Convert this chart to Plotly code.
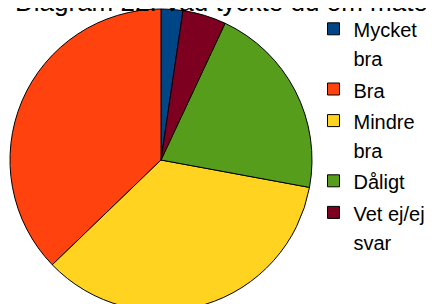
import plotly.graph_objects as go

title_text = "Diagram 22. Vad tyckte du om maten?"
categories = ["Mycket<br>bra", "Bra", "Mindre<br>bra", "Dåligt", "Vet ej/ej<br>svar"]
values = [1, 16, 15, 9, 2]
colors = ["#004586", "#ff420e", "#ffd320", "#579d1c", "#7e0021"]

W, H = 434, 304

def small(label):
    return "<br>".join('<span style="font-size:20px">%s</span>' % part for part in label.split("<br>"))

labels = [small(c) for c in categories]

fig = go.Figure(go.Pie(
    labels=labels,
    values=values,
    sort=False,
    direction="counterclockwise",
    rotation=0,
    textinfo="none",
    hoverinfo="label+value",
    marker=dict(colors=colors, line=dict(color="#000000", width=1)),
    domain=dict(x=[2 / W, 304 / W], y=[0, 1]),
))

fig.update_layout(
    width=W, height=H,
    margin=dict(l=0, r=0, t=0, b=0),
    paper_bgcolor="white",
    plot_bgcolor="white",
    font=dict(family="Liberation Sans, Arial, sans-serif", color="black"),
    legend=dict(
        x=305.5 / W, xanchor="left",
        y=1, yanchor="top",
        valign="top",
        font=dict(size=22, family="Liberation Sans, Arial, sans-serif", color="black"),
        bgcolor="rgba(0,0,0,0)",
    ),
    annotations=[dict(
        text=title_text,
        xref="paper", yref="paper",
        x=5 / W, xanchor="left",
        y=1, yanchor="bottom",
        yshift=-11,
        showarrow=False,
        font=dict(size=26, family="Liberation Sans, Arial, sans-serif", color="black"),
    )],
)

fig.write_html(
    "out.html",
    post_script="document.documentElement.style.overflow='hidden';document.body.style.overflow='hidden';",
)
